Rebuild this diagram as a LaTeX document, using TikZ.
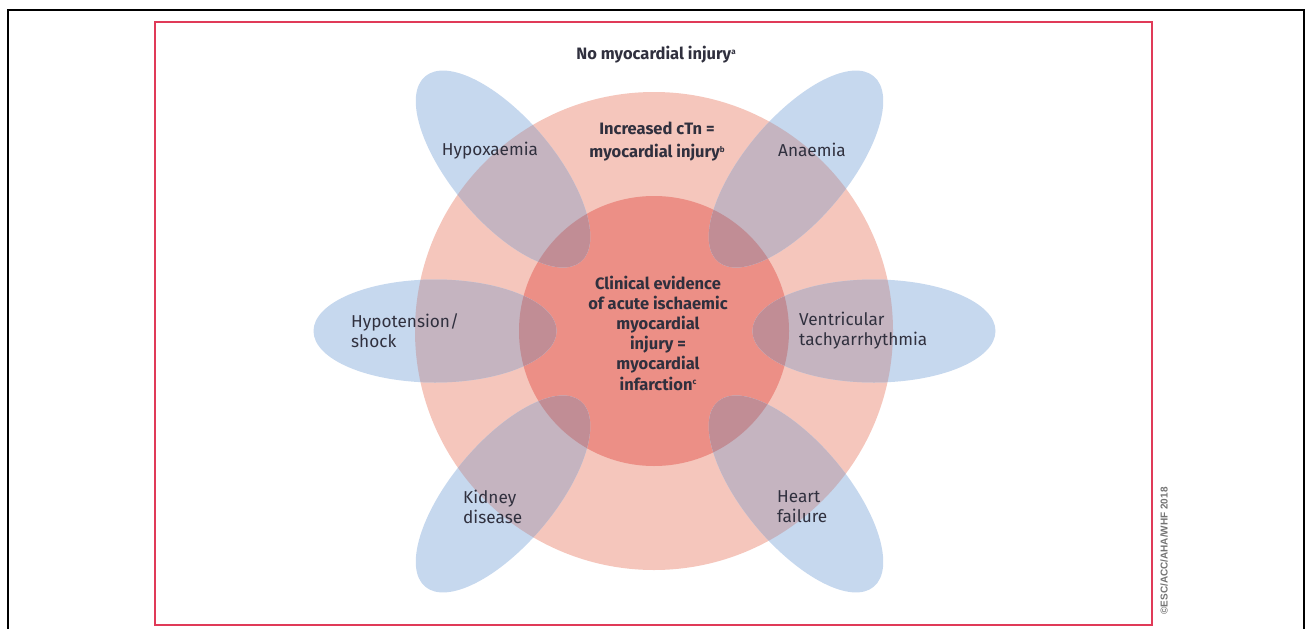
\documentclass[tikz,border=0pt]{standalone}
\usepackage{fontspec}
\setmainfont{Fira Sans}
\newfontfamily\credfont{Liberation Sans}
\definecolor{framered}{RGB}{224,58,88}
\definecolor{outerpink}{RGB}{245,198,188}
\definecolor{innerred}{RGB}{236,143,134}
\definecolor{petalblue}{RGB}{198,216,238}
\definecolor{mauve}{RGB}{197,180,192}
\definecolor{darkmauve}{RGB}{193,141,149}
\definecolor{labeltext}{RGB}{48,48,62}
\newcommand{\fnmark}[1]{\raisebox{0.6ex}{\fontsize{8}{8}\selectfont #1}}
\newcommand{\petal}[3]{%
  \fill[petalblue, shift={(#1)}, rotate=#2] (0,0) ellipse [x radius=#3, y radius=51.5];
  \begin{scope}
    \clip[shift={(#1)}, rotate=#2] (0,0) ellipse [x radius=#3, y radius=51.5];
    \fill[mauve] (ctr) circle [radius=239];
    \fill[darkmauve] (ctr) circle [radius=135];
  \end{scope}}
\tikzset{
  lbl/.style={text=labeltext, inner sep=0pt, font=\fontsize{17.2}{20}\selectfont},
  boldlbl/.style={lbl, font=\fontsize{16.5}{20.2}\selectfont\bfseries},
}
\begin{document}
\begin{tikzpicture}[x=1pt,y=-1pt]
\useasboundingbox (0,0) rectangle (1309,629);
% page frame, open at the bottom
\draw[line width=2.2pt] (8,635) -- (8,10) -- (1304,10) -- (1304,635);
% figure border
\draw[framered, line width=2pt] (155,22) rectangle (1152,625);
\coordinate (ctr) at (654,331);
% concentric zones
\fill[outerpink] (ctr) circle [radius=239];
\fill[innerred] (ctr) circle [radius=135];
% the six conditions
\petal{503,169}{-50}{121}
\petal{796,169}{50}{121}
\petal{503,494}{50}{121}
\petal{796,494}{-50}{121}
\petal{435,331}{0}{121.5}
\petal{874,331}{0}{121.5}
% labels
\node[boldlbl] (none) at (656,55) {No myocardial injury\fnmark{a}};
\node[boldlbl, align=center, font=\fontsize{16.5}{23}\selectfont\bfseries] (injury) at (657,142) {Increased cTn =\\myocardial injury\fnmark{b}};
\node[boldlbl, align=center] (mi) at (658,333) {Clinical evidence\\of acute ischaemic\\myocardial\\injury =\\myocardial\\infarction\fnmark{c}};
\node[lbl] (hypox) at (490,151) {Hypoxaemia};
\node[lbl] (anaem) at (812,150) {Anaemia};
\node[lbl, align=left, anchor=west] (hypot) at (351,331) {Hypotension/\\shock};
\node[lbl, align=left, anchor=west] (vt) at (799,331) {Ventricular\\tachyarrhythmia};
\node[lbl, align=left, anchor=west] (kidney) at (463,507) {Kidney\\disease};
\node[lbl, align=left, anchor=west] (hf) at (777,507) {Heart\\failure};
\node[rotate=90, text=black!55, inner sep=0pt, font=\credfont\fontsize{10}{10}\selectfont\bfseries] (credit) at (1164,551) {©ESC/ACC/AHA/WHF 2018};
\end{tikzpicture}
\end{document}
